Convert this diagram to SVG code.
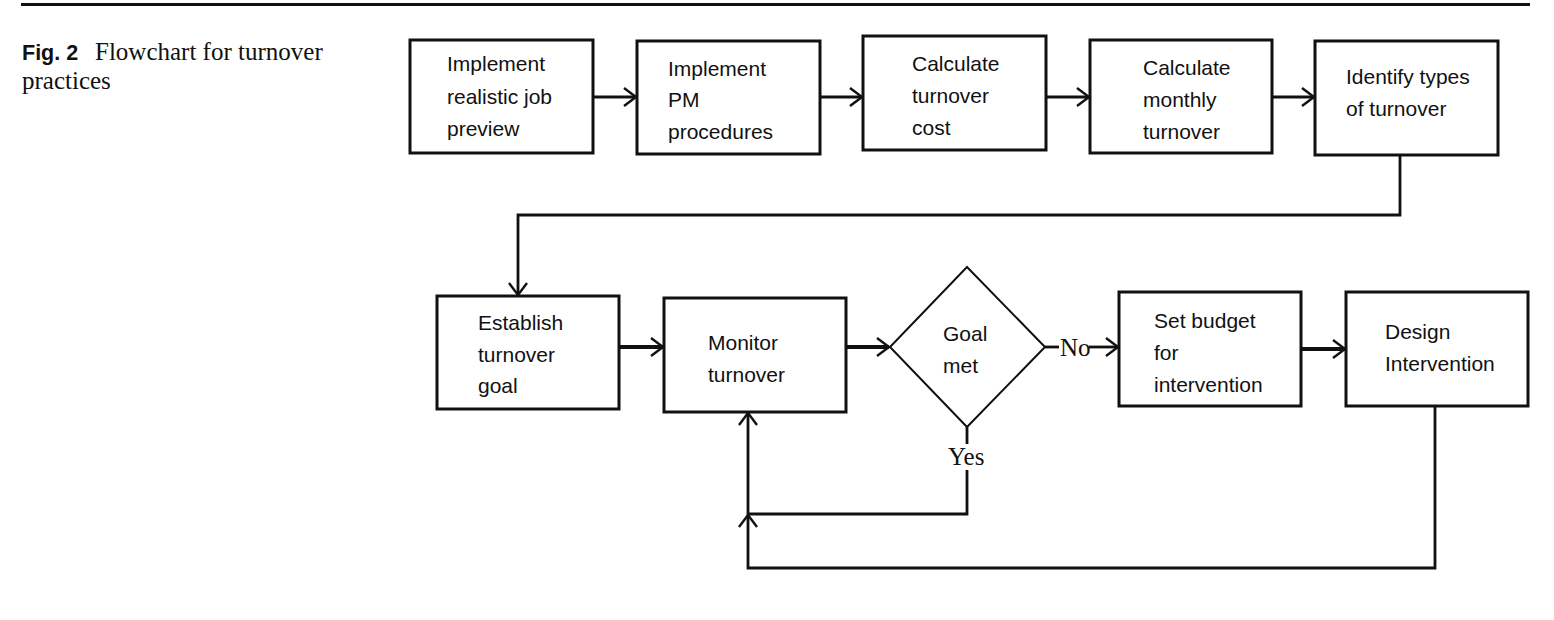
<svg xmlns="http://www.w3.org/2000/svg" width="1554" height="620" viewBox="0 0 1554 620">
<defs>
<style>
.box{fill:#fff;stroke:#111;stroke-width:3}
.dia{fill:#fff;stroke:#111;stroke-width:2}
.t{font-family:"Liberation Sans",Arial,sans-serif;font-size:21px;fill:#111}
.s{font-family:"Liberation Serif","Times New Roman",serif;font-size:25px;fill:#111}
.c{fill:none;stroke:#111;stroke-width:2.8}
.ct{fill:none;stroke:#111;stroke-width:4}
</style>
<marker id="ah" markerUnits="userSpaceOnUse" markerWidth="16" markerHeight="22" refX="13" refY="10" orient="auto" viewBox="0 0 16 20">
<path d="M1,1 L13,10 L1,19" fill="none" stroke="#111" stroke-width="2.4"/>
</marker>
</defs>
<rect x="21" y="3" width="1509" height="3" fill="#111"/>
<g id="caption">
<text x="22" y="60" style="font-family:'Liberation Sans',Arial,sans-serif;font-weight:bold;font-size:21.5px" fill="#111">Fig. 2</text>
<text x="95" y="60" class="s">Flowchart for turnover</text>
<text x="22" y="89" class="s">practices</text>
</g>
<g id="connectors">
<line class="c" x1="593" y1="97" x2="636" y2="97" marker-end="url(#ah)"/>
<line class="c" x1="820" y1="97" x2="862" y2="97" marker-end="url(#ah)"/>
<line class="c" x1="1046" y1="97" x2="1089" y2="97" marker-end="url(#ah)"/>
<line class="c" x1="1272" y1="97" x2="1314" y2="97" marker-end="url(#ah)"/>
<polyline class="c" points="1400,155 1400,215 518,215 518,295" marker-end="url(#ah)"/>
<line class="ct" x1="619" y1="347" x2="663" y2="347" marker-end="url(#ah)"/>
<line class="ct" x1="846" y1="347" x2="889" y2="347" marker-end="url(#ah)"/>
<line class="c" x1="1045" y1="347" x2="1059" y2="347"/>
<line class="c" x1="1089" y1="347" x2="1118" y2="347" marker-end="url(#ah)"/>
<line class="ct" x1="1301" y1="349" x2="1345" y2="349" marker-end="url(#ah)"/>
<line class="c" x1="967" y1="427" x2="967" y2="444"/>
<polyline class="c" points="967,470 967,514 748,514"/>
<polyline class="c" points="1435,406 1435,568 748,568 748,515" marker-end="url(#ah)"/>
<line class="c" x1="748" y1="515" x2="748" y2="413" marker-end="url(#ah)"/>
<text x="1060" y="356" class="s">No</text>
<text x="948" y="465" class="s">Yes</text>
</g>
<g id="n1"><rect class="box" x="410" y="40" width="183" height="113"/>
<text class="t" x="447" y="71">Implement</text><text class="t" x="447" y="104">realistic job</text><text class="t" x="447" y="136">preview</text></g>
<g id="n2"><rect class="box" x="637" y="41" width="183" height="113"/>
<text class="t" x="668" y="76">Implement</text><text class="t" x="668" y="107">PM</text><text class="t" x="668" y="139">procedures</text></g>
<g id="n3"><rect class="box" x="863" y="36" width="183" height="114"/>
<text class="t" x="912" y="71">Calculate</text><text class="t" x="912" y="103">turnover</text><text class="t" x="912" y="135">cost</text></g>
<g id="n4"><rect class="box" x="1090" y="40" width="182" height="113"/>
<text class="t" x="1143" y="75">Calculate</text><text class="t" x="1143" y="107">monthly</text><text class="t" x="1143" y="139">turnover</text></g>
<g id="n5"><rect class="box" x="1315" y="41" width="183" height="114"/>
<text class="t" x="1346" y="84">Identify types</text><text class="t" x="1346" y="116">of turnover</text></g>
<g id="n6"><rect class="box" x="437" y="296" width="182" height="113"/>
<text class="t" x="478" y="330">Establish</text><text class="t" x="478" y="362">turnover</text><text class="t" x="478" y="393">goal</text></g>
<g id="n7"><rect class="box" x="664" y="298" width="182" height="114"/>
<text class="t" x="708" y="350">Monitor</text><text class="t" x="708" y="382">turnover</text></g>
<g id="n8"><polygon class="dia" points="967,267 1045,347 967,427 890,347"/>
<text class="t" x="943" y="341">Goal</text><text class="t" x="943" y="373">met</text></g>
<g id="n9"><rect class="box" x="1119" y="292" width="182" height="114"/>
<text class="t" x="1154" y="328">Set budget</text><text class="t" x="1154" y="360">for</text><text class="t" x="1154" y="392">intervention</text></g>
<g id="n10"><rect class="box" x="1346" y="292" width="182" height="114"/>
<text class="t" x="1385" y="339">Design</text><text class="t" x="1385" y="371">Intervention</text></g>
</svg>
